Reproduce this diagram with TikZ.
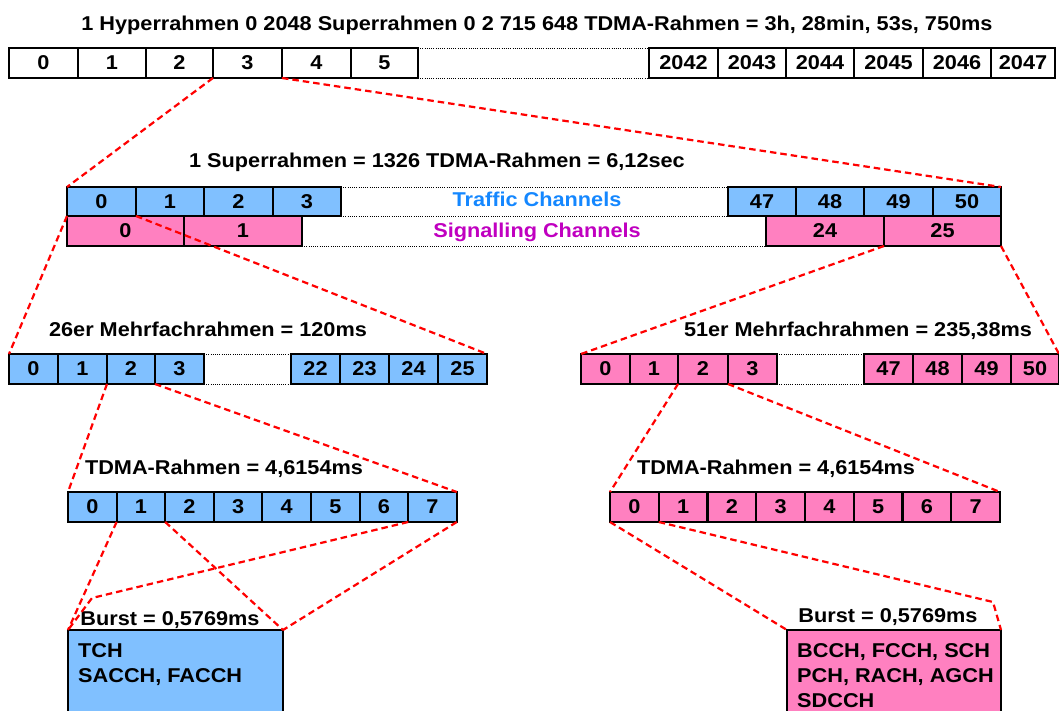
\documentclass[tikz,border=0pt]{standalone}
\usepackage{fontspec}
\setmainfont{Liberation Sans}[FakeStretch=1.085]
\definecolor{tblue}{RGB}{128,192,255}
\definecolor{spink}{RGB}{255,128,192}
\definecolor{ttext}{RGB}{20,135,255}
\definecolor{stext}{RGB}{192,0,192}
\tikzset{
  cell/.style={draw=black, line width=2.1pt, inner sep=0pt, outer sep=0pt,
    anchor=north west, font=\bfseries\fontsize{20}{20}\selectfont},
  plain/.style={cell, fill=white},
  tch/.style={cell, fill=tblue},
  sch/.style={cell, fill=spink},
  zoomline/.style={draw=red, line width=2.2pt, dash pattern=on 6.5pt off 4pt},
  gapline/.style={draw=black, line width=0.9pt, dash pattern=on 1pt off 1.2pt},
  heading/.style={font=\bfseries\fontsize{20}{20}\selectfont, anchor=base, inner sep=0pt},
  bursttxt/.style={font=\bfseries\fontsize{20}{20}\selectfont, anchor=base west, inner sep=0pt},
}
\begin{document}
\begin{tikzpicture}[x=1pt, y=-1pt]
\useasboundingbox (0,0) rectangle (1059,711);
\clip (0,0) rectangle (1059,711);

% ---------- hyperframe ----------
\node[heading] (hyptitle) at (537,31) {1 Hyperrahmen 0 2048 Superrahmen 0 2 715 648 TDMA-Rahmen = 3h, 28min, 53s, 750ms};
\foreach \n/\xa/\xb in {0/9/78,1/78/146,2/146/213,3/213/282,4/282/351,5/351/418,
    2042/649/718,2043/718/786,2044/786/854,2045/854/923,2046/923/991,2047/991/1055}
  \node[plain, minimum width=\xb-\xa, minimum height=30] (h\n) at (\xa,48) {\n};
\draw[gapline] (h5.north east) -- (h2042.north west);
\draw[gapline] (h5.south east) -- (h2042.south west);

% ---------- superframe ----------
\node[heading] (suptitle) at (437,168) {1 Superrahmen = 1326 TDMA-Rahmen = 6,12sec};
\foreach \n/\xa/\xb in {0/67/136,1/136/204,2/204/273,3/273/341,
    47/728/796,48/796/864,49/864/933,50/933/1001}
  \node[tch, minimum width=\xb-\xa, minimum height=29] (t\n) at (\xa,187) {\n};
\foreach \n/\xa/\xb in {0/67/184,1/184/302,24/766/884,25/884/1001}
  \node[sch, minimum width=\xb-\xa, minimum height=30] (s\n) at (\xa,216) {\n};
\draw[gapline] (t3.north east) -- (t47.north west);
\draw[gapline] (t3.south east) -- (t47.south west);
\draw[gapline] (s1.south east) -- (s24.south west);
\node[heading, text=ttext] (tlabel) at (537,207) {Traffic Channels};
\node[heading, text=stext] (slabel) at (537,237) {Signalling Channels};

% ---------- 26-multiframe ----------
\node[heading] (mtitle) at (208,336) {26er Mehrfachrahmen = 120ms};
\foreach \n/\xa/\xb in {0/9/58,1/58/107,2/107/155,3/155/204,
    22/291/340,23/340/389,24/389/438,25/438/487}
  \node[tch, minimum width=\xb-\xa, minimum height=30] (m\n) at (\xa,354) {\n};
\draw[gapline] (m3.north east) -- (m22.north west);
\draw[gapline] (m3.south east) -- (m22.south west);

% ---------- 51-multiframe ----------
\node[heading] (ntitle) at (858,336) {51er Mehrfachrahmen = 235,38ms};
\foreach \n/\xa/\xb in {0/581/630,1/630/678,2/678/728,3/728/777,
    47/864/913,48/913/962,49/962/1011,50/1011/1059}
  \node[sch, minimum width=\xb-\xa, minimum height=30] (n\n) at (\xa,354) {\n};
\draw[gapline] (n3.north east) -- (n47.north west);
\draw[gapline] (n3.south east) -- (n47.south west);

% ---------- TDMA frames ----------
\node[heading] (atitle) at (224,474) {TDMA-Rahmen = 4,6154ms};
\foreach \n in {0,...,7}
  \node[tch, minimum width=48.6, minimum height=30] (a\n) at (68+48.6*\n,492) {\n};
\node[heading] (btitle) at (776,474) {TDMA-Rahmen = 4,6154ms};
\foreach \n in {0,...,7}
  \node[sch, minimum width=48.75, minimum height=30] (b\n) at (610+48.75*\n,492) {\n};

% ---------- bursts ----------
\node[heading] (bltitle) at (170,625) {Burst = 0,5769ms};
\node[tch, minimum width=215, minimum height=100] (bl) at (68,630) {};
\node[bursttxt] (bla) at (78,657) {TCH};
\node[bursttxt] (blb) at (78,682) {SACCH, FACCH};

\node[heading] (brtitle) at (888,622) {Burst = 0,5769ms};
\node[sch, minimum width=214, minimum height=100] (br) at (787,630) {};
\node[bursttxt] (bra) at (797,657) {BCCH, FCCH, SCH};
\node[bursttxt] (brb) at (797,682) {PCH, RACH, AGCH};
\node[bursttxt] (brc) at (797,707) {SDCCH};

% ---------- zoom connectors ----------
\coordinate (blbend) at (92,598);
\coordinate (brbend) at (993,602);
\draw[zoomline] (h3.south west) -- (t0.north west);
\draw[zoomline] (h3.south east) -- (t50.north east);
\draw[zoomline] (t0.south west) -- (m0.north west);
\draw[zoomline] (t0.south east) -- (m25.north east);
\draw[zoomline] (s25.south west) -- (n0.north west);
\draw[zoomline] (s25.south east) -- (n50.north east);
\draw[zoomline] (m2.south west) -- (a0.north west);
\draw[zoomline] (m2.south east) -- (a7.north east);
\draw[zoomline] (n2.south west) -- (b0.north west);
\draw[zoomline] (n2.south east) -- (b7.north east);
\draw[zoomline] (a1.south west) -- (bl.north west);
\draw[zoomline] (a1.south east) -- (bl.north east);
\draw[zoomline] (a7.south west) -- (blbend) -- (bl.north west);
\draw[zoomline] (a7.south east) -- (bl.north east);
\draw[zoomline] (b0.south west) -- (br.north west);
\draw[zoomline] (b0.south east) -- (brbend) -- (br.north east);
\end{tikzpicture}
\end{document}
